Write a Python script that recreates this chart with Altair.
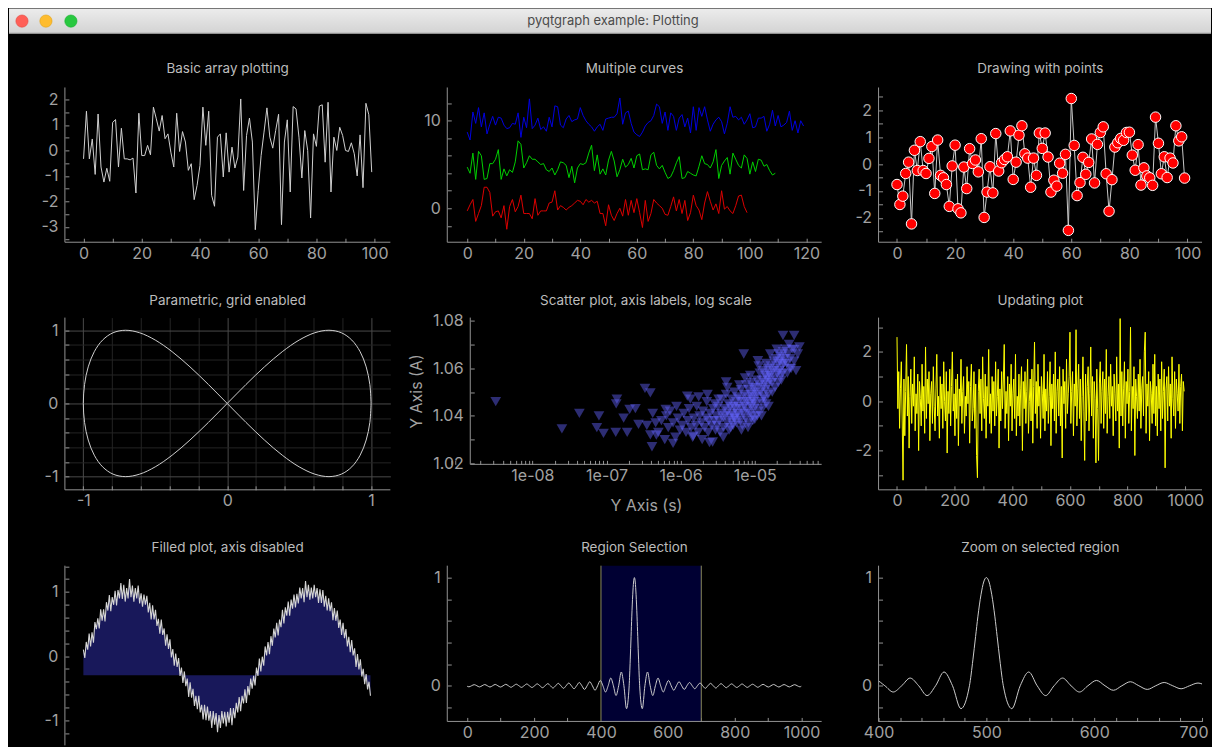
import altair as alt
import pandas as pd

FONT = "Inter"
AXIS_C = "#939393"
LABEL_C = "#a2a2a2"
TITLE_C = "#bcbcbc"

WINDOW_TITLE = "pyqtgraph example: Plotting"
LIGHT_FILL = ["#ff5f57", "#febc2e", "#28c840"]
LIGHT_EDGE = ["#e2463f", "#e1a116", "#14ae2c"]
TITLES = ["Basic array plotting", "Multiple curves", "Drawing with points",
          "Parametric, grid enabled", "Scatter plot, axis labels, log scale", "Updating plot",
          "Filled plot, axis disabled", "Region Selection", "Zoom on selected region"]

# ---------------- data ----------------
P1_Y = [-0.33, 1.54, -0.33, 0.45, -0.94, 1.43, -0.65, -1.24, -0.70, -1.21,
        1.10, 1.21, -0.65, 0.87, -0.33, -0.33, -0.37, -0.30, -1.67, 1.46,
        -0.20, -0.20, 0.20, -0.17, 1.70, 1.24, 0.76, 1.37, 0.46, 0.65,
        -0.07, -0.65, 1.46, -0.04, 0.74, 0.33, -0.78, -0.52, -1.93, -1.37,
        -0.59, 1.70, 0.20, 1.54, -1.76, -2.19, 0.52, 0.65, -1.04, 0.69,
        -0.85, 0.13, -0.69, -0.26, 2.02, -1.57, 0.59, 1.27, 0.33, -3.11,
        -1.57, -0.20, 0.72, 1.67, 0.52, 0.09, 0.78, 1.42, -2.91, 0.33,
        1.20, -1.63, 1.72, 1.63, 0.52, -1.08, 0.78, 0.00, -2.65, 0.65,
        0.16, 1.74, 1.79, -0.46, 1.89, -1.63, 0.52, 0.00, 0.91, 0.59,
        0.00, -0.04, 0.30, -0.13, -1.00, 0.61, -1.46, 1.85, 1.40, -0.85]

P2_RED = [-0.3, 0.4, 1.0, -1.5, -0.6, 0.3, 2.4, 2.4, 1.8, -0.9,
          -0.4, -0.3, -1.1, 0.3, -2.4, 0.2, 1.0, -0.4, 0.2, 1.5,
          -0.6, -0.6, -0.6, -1.2, 1.1, -0.8, -0.3, -0.3, -0.3, 0.6,
          0.7, 2.0, -0.2, 0.3, 0.1, -0.2, 0.1, 0.3, 0.6, 0.9,
          0.8, 0.4, 1.0, 0.7, 0.9, 0.6, 0.8, -0.6, -0.6, -2.0,
          0.4, -0.8, -1.4, -0.6, 0.0, -0.9, 1.0, -0.8, 0.9, -0.5,
          1.1, -0.5, -2.2, 0.9, -1.5, -0.6, 1.0, 0.6, 0.3, 0.0,
          -0.7, -0.8, 0.2, 1.3, -0.3, 1.0, -0.6, 0.9, -1.4, -0.5,
          1.5, 0.3, -0.2, -1.3, 0.6, 1.9, 0.8, -0.2, 0.5, -0.6,
          2.0, -0.1, 0.2, -0.3, -0.6, 0.3, 1.4, 1.5, 0.2, -0.5]
P2_GREEN = [4.7, 4.0, 6.3, 3.3, 6.5, 6.0, 3.3, 3.4, 5.1, 5.1,
            5.6, 6.7, 3.3, 4.5, 3.7, 4.4, 4.1, 5.3, 7.7, 7.3,
            4.6, 5.2, 6.0, 5.6, 5.6, 5.3, 5.0, 5.1, 4.4, 4.2,
            4.6, 3.8, 4.4, 5.3, 5.2, 4.9, 3.5, 4.8, 2.9, 4.6,
            5.1, 5.0, 5.2, 6.3, 7.2, 4.3, 6.1, 3.9, 4.5, 3.8,
            5.5, 6.5, 5.4, 3.6, 4.4, 5.6, 4.7, 5.0, 5.7, 4.6,
            6.0, 6.2, 4.4, 4.5, 4.4, 6.1, 6.4, 4.9, 4.5, 4.9,
            4.1, 3.4, 3.6, 4.3, 5.2, 5.9, 3.4, 3.5, 4.2, 4.0,
            3.8, 3.7, 4.8, 6.0, 5.1, 5.0, 4.6, 5.3, 6.7, 3.4,
            4.9, 5.4, 5.8, 3.9, 6.3, 5.6, 4.9, 4.6, 6.1, 5.7,
            3.9, 5.3, 4.2, 5.6, 5.5, 4.8, 5.0, 4.3, 3.8, 4.0]
P2_BLUE = [8.7, 7.8, 11.0, 9.7, 11.5, 9.3, 10.9, 8.5, 9.6, 10.5,
           9.5, 10.4, 10.3, 9.5, 9.1, 9.2, 9.7, 9.6, 10.9, 8.1,
           10.4, 9.2, 12.5, 9.1, 9.5, 10.3, 9.0, 9.3, 8.8, 10.4,
           9.3, 11.7, 11.6, 9.5, 9.2, 10.2, 10.6, 9.9, 10.1, 10.2,
           11.5, 10.6, 10.0, 9.6, 9.3, 8.8, 9.3, 9.6, 8.9, 10.2,
           10.3, 10.4, 10.4, 10.8, 12.6, 9.6, 10.9, 11.1, 9.7, 8.7,
           8.4, 8.2, 8.7, 9.4, 9.8, 10.0, 10.6, 11.9, 11.6, 9.7,
           11.0, 8.9, 10.9, 10.5, 8.9, 10.3, 10.7, 9.3, 10.3, 8.6,
           11.6, 8.9, 11.5, 10.5, 11.6, 10.1, 8.8, 9.6, 10.1, 10.4,
           9.9, 8.5, 9.7, 11.6, 10.4, 10.5, 10.1, 10.4, 9.6, 10.1,
           10.8, 9.2, 9.3, 10.3, 10.3, 10.5, 8.8, 9.6, 11.2, 9.4,
           10.6, 9.3, 9.5, 9.8, 11.1, 8.9, 10.0, 8.6, 10.0, 9.4]
P2_SERIES = ["red", "green", "blue"]
P2_COLORS = ["#dd0000", "#00d000", "#0000e0"]

P3_Y = [-0.76, -1.50, -1.19, -0.35, 0.07, -2.22, 0.51, -0.24, 0.83, -0.24,
        -0.35, 0.21, 0.65, -1.09, 0.89, -0.42, -0.51, -0.76, -1.57, -0.07,
        0.70, -1.66, -1.81, -0.11, -0.91, 0.57, 0.02, 0.15, -0.29, 0.94,
        -1.98, -1.04, -0.10, -1.07, 1.13, -0.26, 0.05, 0.17, 0.27, 1.23,
        -0.57, 0.07, 1.07, 1.42, 0.38, 0.22, -0.86, 0.22, -0.42, 1.15,
        0.58, 1.15, 0.26, -1.04, -0.60, -0.82, 0.03, -0.34, 0.36, -2.46,
        2.43, 0.69, -1.17, -0.69, 0.25, -0.38, 0.06, 0.93, -0.70, 0.73,
        1.17, 1.38, -0.36, -1.75, -0.58, 0.63, 0.79, 0.95, 0.88, 1.17,
        1.18, 0.33, -0.23, 0.72, -0.78, -0.14, -0.44, -0.51, -0.79, 1.74,
        0.77, -0.36, 0.27, -0.50, 0.22, 0.04, 1.42, 0.86, 1.01, -0.52]

P4_X = [1.0, 0.9914, 0.9659, 0.9239, 0.8660, 0.7934, 0.7071, 0.6088, 0.5, 0.3827,
        0.2588, 0.1305, 0.0, -0.1305, -0.2588, -0.3827, -0.5, -0.6088, -0.7071, -0.7934,
        -0.8660, -0.9239, -0.9659, -0.9914, -1.0, -0.9914, -0.9659, -0.9239, -0.8660, -0.7934,
        -0.7071, -0.6088, -0.5, -0.3827, -0.2588, -0.1305, 0.0, 0.1305, 0.2588, 0.3827,
        0.5, 0.6088, 0.7071, 0.7934, 0.8660, 0.9239, 0.9659, 0.9914, 1.0]
P4_Y = [0.0, 0.2588, 0.5, 0.7071, 0.8660, 0.9659, 1.0, 0.9659, 0.8660, 0.7071,
        0.5, 0.2588, 0.0, -0.2588, -0.5, -0.7071, -0.8660, -0.9659, -1.0, -0.9659,
        -0.8660, -0.7071, -0.5, -0.2588, 0.0, 0.2588, 0.5, 0.7071, 0.8660, 0.9659,
        1.0, 0.9659, 0.8660, 0.7071, 0.5, 0.2588, 0.0, -0.2588, -0.5, -0.7071,
        -0.8660, -0.9659, -1.0, -0.9659, -0.8660, -0.7071, -0.5, -0.2588, 0.0]

P5_X = [3.2e-9, 2.5e-8, 4.3e-8, 7.9e-8, 7.4e-8, 9.1e-8, 1.35e-7, 1.38e-7, 1.33e-7, 1.9e-7,
        1.7e-7, 2.05e-7, 2.45e-7, 2.7e-7, 3.3e-7, 3.9e-7, 4.1e-7, 4.7e-7, 6.3e-7, 7.9e-7,
        1.23e-6, 1.48e-6, 2.45e-6, 4.1e-6, 7.1e-6, 1.1e-5, 2.4e-5, 3.4e-5, 3.4e-5, 2.95e-5,
        1.0e-5, 1.23e-5,
        3.5e-7, 4.2e-7, 5.0e-7, 5.5e-7, 6.1e-7, 6.8e-7, 7.2e-7, 7.9e-7, 8.5e-7, 9.2e-7,
        9.8e-7, 4.6e-7, 6.4e-7, 8.8e-7, 3.9e-7,
        1.05e-6, 1.1e-6, 1.18e-6, 1.25e-6, 1.3e-6, 1.38e-6, 1.45e-6, 1.5e-6, 1.6e-6, 1.65e-6,
        1.72e-6, 1.8e-6, 1.9e-6, 1.95e-6, 2.0e-6, 2.1e-6, 2.2e-6, 2.25e-6, 2.35e-6, 2.4e-6,
        2.5e-6, 2.6e-6, 2.7e-6, 2.75e-6, 2.85e-6, 2.95e-6, 1.35e-6, 1.75e-6, 2.3e-6, 2.9e-6,
        3.0e-6, 3.1e-6, 3.2e-6, 3.3e-6, 3.4e-6, 3.5e-6, 3.6e-6, 3.7e-6, 3.8e-6, 3.9e-6,
        4.0e-6, 4.1e-6, 4.2e-6, 4.3e-6, 4.4e-6, 4.5e-6, 4.6e-6, 4.7e-6, 4.8e-6, 4.9e-6,
        5.0e-6, 5.1e-6, 5.2e-6, 5.3e-6, 5.4e-6, 5.5e-6, 5.6e-6, 5.7e-6, 5.8e-6, 5.9e-6,
        3.25e-6, 3.75e-6, 4.25e-6, 4.75e-6, 5.25e-6,
        6.0e-6, 6.1e-6, 6.3e-6, 6.4e-6, 6.5e-6, 6.7e-6, 6.8e-6, 6.9e-6, 7.0e-6, 7.2e-6,
        7.3e-6, 7.5e-6, 7.6e-6, 7.7e-6, 7.9e-6, 8.0e-6, 8.2e-6, 8.3e-6, 8.5e-6, 8.6e-6,
        8.8e-6, 8.9e-6, 9.0e-6, 9.2e-6, 9.3e-6, 9.5e-6, 9.6e-6, 9.8e-6, 9.9e-6, 6.6e-6,
        7.4e-6, 8.1e-6, 8.7e-6, 9.4e-6, 6.2e-6,
        1.0e-5, 1.02e-5, 1.05e-5, 1.07e-5, 1.1e-5, 1.12e-5, 1.15e-5, 1.17e-5, 1.2e-5, 1.22e-5,
        1.25e-5, 1.28e-5, 1.3e-5, 1.32e-5, 1.35e-5, 1.38e-5, 1.4e-5, 1.42e-5, 1.45e-5, 1.48e-5,
        1.5e-5, 1.52e-5, 1.55e-5, 1.58e-5, 1.13e-5, 1.27e-5, 1.43e-5, 1.08e-5, 1.36e-5, 1.53e-5,
        1.6e-5, 1.65e-5, 1.7e-5, 1.75e-5, 1.8e-5, 1.85e-5, 1.9e-5, 1.95e-5, 2.0e-5, 2.05e-5,
        2.1e-5, 2.15e-5, 2.2e-5, 2.25e-5, 2.3e-5, 2.35e-5, 2.4e-5, 2.45e-5, 1.72e-5, 1.88e-5,
        2.08e-5, 2.28e-5, 1.62e-5, 1.98e-5, 2.38e-5,
        2.5e-5, 2.6e-5, 2.7e-5, 2.8e-5, 2.9e-5, 3.0e-5, 3.2e-5, 3.4e-5, 3.6e-5, 3.8e-5,
        4.0e-5, 2.75e-5, 3.1e-5]
P5_Y = [1.046, 1.0345, 1.041, 1.040, 1.035, 1.0326, 1.045, 1.047, 1.033, 1.033,
        1.039, 1.0427, 1.043, 1.0364, 1.0515, 1.0497, 1.027, 1.0319, 1.0427, 1.0284,
        1.0483, 1.0315, 1.0287, 1.0543, 1.066, 1.0632, 1.0738, 1.0738, 1.0678, 1.060,
        1.0385, 1.040,
        1.036, 1.041, 1.033, 1.038, 1.030, 1.035, 1.042, 1.037, 1.031, 1.039,
        1.034, 1.037, 1.040, 1.044, 1.032,
        1.036, 1.041, 1.033, 1.038, 1.043, 1.035, 1.031, 1.039, 1.036, 1.044,
        1.033, 1.040, 1.037, 1.030, 1.042, 1.035, 1.039, 1.046, 1.033, 1.038,
        1.041, 1.036, 1.029, 1.043, 1.038, 1.034, 1.047, 1.048, 1.049, 1.045,
        1.040, 1.036, 1.044, 1.038, 1.033, 1.041, 1.047, 1.039, 1.035, 1.043,
        1.040, 1.049, 1.037, 1.042, 1.045, 1.034, 1.040, 1.044, 1.038, 1.047,
        1.041, 1.036, 1.044, 1.050, 1.039, 1.043, 1.046, 1.037, 1.041, 1.048,
        1.047, 1.031, 1.052, 1.035, 1.039,
        1.044, 1.040, 1.047, 1.038, 1.051, 1.043, 1.036, 1.046, 1.041, 1.049,
        1.044, 1.039, 1.053, 1.046, 1.042, 1.048, 1.037, 1.051, 1.045, 1.041,
        1.049, 1.054, 1.044, 1.047, 1.040, 1.052, 1.046, 1.043, 1.050, 1.034,
        1.056, 1.035, 1.057, 1.038, 1.053,
        1.048, 1.052, 1.045, 1.055, 1.049, 1.042, 1.053, 1.058, 1.050, 1.046,
        1.055, 1.052, 1.059, 1.048, 1.054, 1.057, 1.051, 1.045, 1.056, 1.060,
        1.053, 1.049, 1.058, 1.055, 1.061, 1.043, 1.062, 1.040, 1.047, 1.044,
        1.057, 1.061, 1.054, 1.059, 1.063, 1.056, 1.060, 1.064, 1.058, 1.062,
        1.066, 1.059, 1.063, 1.057, 1.065, 1.061, 1.067, 1.062, 1.050, 1.052,
        1.054, 1.055, 1.066, 1.068, 1.058,
        1.064, 1.068, 1.062, 1.066, 1.070, 1.064, 1.068, 1.063, 1.059, 1.066,
        1.069, 1.058, 1.060]

P6_Y = [2.6, -0.3, 1.2, -1.1, 0.5, 1.6, -0.8, -3.2, 0.9, -1.4,
        0.4, 2.3, -0.6, 1.0, -1.9, 0.2, 1.3, -0.9, 0.7, -0.2,
        1.8, -1.2, 0.3, -0.5, 1.1, -2.0, 0.8, 0.1, -1.0, 1.5,
        -0.4, 0.6, -1.3, 2.2, -0.7, 0.9, -0.1, 1.2, -1.6, 0.3,
        0.8, -0.9, 1.4, -0.2, -1.2, 0.5, 1.9, -0.6, 0.2, -1.5,
        1.0, -0.3, 0.7, -1.1, 1.6, 0.0, -0.8, 1.2, -2.1, 0.4,
        -0.5, 1.3, -1.0, 0.6, 2.0, -0.4, 0.3, -1.4, 0.9, -0.7,
        1.1, -1.8, 0.5, -0.2, 1.7, -0.9, 0.4, 1.0, -1.3, 0.2,
        -0.6, 1.4, -0.1, 0.8, -1.7, 0.6, 1.5, -0.8, -0.3, 1.2,
        -1.1, 0.7, -2.2, -3.1, 0.4, 1.3, -0.5, 0.9, -1.2, 1.8,
        0.1, -0.7, 1.1, -1.5, 0.6, -0.2, 2.1, -0.9, 0.3, -1.3,
        1.0, -0.4, 0.8, -1.0, 1.6, -0.6, 0.2, 1.3, -1.9, 0.5,
        -0.8, 1.2, -0.3, 0.9, 2.3, -1.1, 0.4, -0.5, 1.0, -1.6,
        0.7, -0.2, 1.5, -1.2, 0.3, 0.9, -0.7, 1.9, -1.4, 0.2,
        -0.6, 1.1, -1.0, 0.5, 1.4, -2.0, 0.8, -0.3, 1.2, -0.9,
        0.4, 1.7, -1.3, 0.0, 0.9, -0.8, 1.3, -1.7, 0.6, 2.4,
        -0.5, 0.8, -1.1, 1.5, -0.2, 0.6, -1.5, 1.0, 0.3, -0.7,
        1.9, -1.2, 0.5, -0.4, 1.2, -0.9, 0.2, 1.6, -1.8, 0.7,
        -0.3, 1.1, -0.8, 2.0, -1.3, 0.4, 0.9, -0.6, 1.4, -1.0,
        0.6, -2.3, 1.3, -0.1, 0.8, -1.1, 1.7, -0.5, 0.3, 1.0,
        2.8, -0.9, 0.4, 1.2, -1.4, 0.7, -0.2, 2.9, -1.0, 0.5,
        1.5, -0.7, 0.9, -1.6, 0.2, 1.8, -0.4, -2.4, 1.1, -0.8,
        0.6, 1.4, -1.2, 0.3, 2.2, -0.6, 1.0, -1.5, 0.8, 0.1,
        -2.5, 1.3, -0.3, -2.4, 0.7, 1.6, -0.9, 0.4, 1.2, -1.1,
        0.9, -0.5, 2.1, -1.3, 0.2, 1.0, -0.7, 1.5, -0.2, 0.6,
        -1.4, 1.1, 0.3, -0.8, 1.8, -0.4, 0.7, -1.9, 3.35, -0.6,
        1.2, -1.0, 0.5, 1.6, -1.5, 0.8, -0.1, 1.3, -0.9, 0.4,
        3.0, -1.2, 0.6, -0.3, 1.4, -2.2, 0.9, 0.2, -0.7, 1.1,
        -0.4, 1.7, -1.1, 0.5, 1.0, -0.6, 2.0, 2.8, -1.3, 0.7,
        -0.2, 1.2, -1.6, 0.8, 0.3, -0.9, 1.5, -0.5, 1.9, -1.0,
        0.6, -1.4, 1.1, -0.3, 0.9, -1.2, 1.6, -0.7, 0.4, 1.3,
        -2.7, 0.5, 1.0, -0.8, 1.4, -0.2, 0.7, -1.5, 1.8, 0.1,
        -0.6, 1.2, -1.1, 0.9, 0.3, -0.4, 1.5, -0.9, 0.6, 1.1,
        -1.2, 0.8, 0.4]

P7_Y = [0.10, -0.03, 0.22, 0.10, 0.35, 0.15, 0.37, 0.21, 0.53, 0.42,
        0.59, 0.43, 0.73, 0.55, 0.73, 0.54, 0.84, 0.71, 0.95, 0.70,
        0.92, 0.80, 1.02, 0.79, 1.03, 0.90, 1.14, 0.89, 1.11, 0.85,
        1.06, 0.90, 1.20, 0.92, 1.10, 0.85, 1.06, 0.90, 1.10, 0.82,
        0.98, 0.77, 0.96, 0.80, 0.94, 0.68, 0.83, 0.57, 0.79, 0.57,
        0.72, 0.47, 0.58, 0.35, 0.57, 0.33, 0.43, 0.16, 0.34, 0.11,
        0.26, -0.02, 0.11, -0.15, 0.04, -0.17, -0.03, -0.31, -0.18, -0.42,
        -0.24, -0.47, -0.35, -0.64, -0.41, -0.65, -0.51, -0.78, -0.62, -0.83,
        -0.62, -0.88, -0.76, -0.99, -0.76, -1.00, -0.79, -1.01, -0.86, -1.12,
        -0.86, -1.07, -0.89, -1.19, -0.92, -1.12, -0.86, -1.05, -0.87, -1.10,
        -0.87, -1.04, -0.81, -1.08, -0.81, -0.97, -0.73, -0.88, -0.64, -0.86,
        -0.62, -0.74, -0.52, -0.73, -0.47, -0.61, -0.35, -0.51, -0.31, -0.46,
        -0.18, -0.31, -0.04, -0.24, -0.01, -0.15, 0.15, 0.01, 0.22, 0.03,
        0.31, 0.16, 0.43, 0.29, 0.52, 0.32, 0.57, 0.45, 0.72, 0.51,
        0.76, 0.63, 0.85, 0.63, 0.88, 0.74, 0.96, 0.76, 0.97, 0.82,
        1.07, 0.90, 1.06, 0.84, 1.17, 0.92, 1.11, 0.88, 1.07, 0.90,
        1.11, 0.92, 1.06, 0.83, 1.04, 0.83, 1.03, 0.77, 0.94, 0.71,
        0.90, 0.70, 0.84, 0.56, 0.75, 0.55, 0.71, 0.44, 0.57, 0.33,
        0.52, 0.28, 0.42, 0.15, 0.30, 0.06, 0.25, 0.01, 0.12, -0.17,
        0.03, -0.21, -0.05, -0.32, -0.20, -0.44, -0.28, -0.52, -0.40, -0.62]
P7_FILL_LEVEL = -0.3

SINC_X = [0.0,
          5.2, 13.0, 20.9, 28.8, 36.6, 44.5, 52.3, 60.2, 68.0, 75.9,
          83.7, 91.6, 99.4, 107.3, 115.2, 123.0, 130.9, 138.7, 146.6, 154.4,
          162.3, 170.1, 178.0, 185.8, 193.7, 201.5, 209.4, 217.3, 225.1, 233.0,
          240.8, 248.7, 256.5, 264.4, 272.2, 280.1, 287.9, 295.8, 303.7, 311.5,
          319.4, 327.2, 335.1, 342.9, 350.8, 358.6, 366.5, 374.3, 382.2, 390.0,
          397.9, 405.8, 413.6, 421.5, 429.3, 437.2, 445.0, 452.9, 460.7, 468.6,
          476.4, 484.3,
          487.5, 490.0, 492.1, 495.0, 497.5, 500.0, 502.5, 505.0, 507.9, 510.0, 512.5,
          515.7, 523.6, 531.4, 539.3, 547.1, 555.0, 562.8, 570.7, 578.5, 586.4,
          594.2, 602.1, 610.0, 617.8, 625.7, 633.5, 641.4, 649.2, 657.1, 664.9,
          672.8, 680.6, 688.5, 696.3, 704.2, 712.1, 719.9, 727.8, 735.6, 743.5,
          751.3, 759.2, 767.0, 774.9, 782.7, 790.6, 798.5, 806.3, 814.2, 822.0,
          829.9, 837.7, 845.6, 853.4, 861.3, 869.1, 877.0, 884.8, 892.7, 900.6,
          908.4, 916.3, 924.1, 932.0, 939.8, 947.7, 955.5, 963.4, 971.2, 979.1,
          987.0, 994.8,
          999.0]
SINC_Y = [-0.005,
          -0.010, 0, 0.010, 0, -0.011, 0, 0.011, 0, -0.012, 0,
          0.012, 0, -0.012, 0, 0.013, 0, -0.014, 0, 0.014, 0,
          -0.015, 0, 0.016, 0, -0.016, 0, 0.017, 0, -0.018, 0,
          0.019, 0, -0.021, 0, 0.022, 0, -0.024, 0, 0.025, 0,
          -0.028, 0, 0.030, 0, -0.034, 0, 0.037, 0, -0.042, 0,
          0.049, 0, -0.058, 0, 0.071, 0, -0.091, 0, 0.127, 0,
          -0.212, 0,
          0.239, 0.455, 0.637, 0.841, 0.959, 1.0, 0.959, 0.841, 0.637, 0.455, 0.239,
          0, -0.212, 0, 0.127, 0, -0.091, 0, 0.071, 0, -0.058,
          0, 0.049, 0, -0.042, 0, 0.037, 0, -0.034, 0, 0.030,
          0, -0.028, 0, 0.025, 0, -0.024, 0, 0.022, 0, -0.021,
          0, 0.019, 0, -0.018, 0, 0.017, 0, -0.016, 0, 0.016,
          0, -0.015, 0, 0.014, 0, -0.014, 0, 0.013, 0, -0.012,
          0, 0.012, 0, -0.012, 0, 0.011, 0, -0.011, 0, 0.010,
          0, -0.010,
          -0.005]
REGION = [400, 700]

# tick positions (major + minor)
X_TICKS_100 = list(range(0, 101, 10))
X_TICKS_120 = list(range(0, 121, 10))
X_TICKS_1000 = list(range(0, 1001, 100))
X_TICKS_ZOOM = list(range(400, 701, 20))
Y1_TICKS = [-3.5, -3, -2.5, -2, -1.5, -1, -0.5, 0, 0.5, 1, 1.5, 2]
Y2_TICKS = [-2, 0, 2, 4, 6, 8, 10, 12]
Y3_TICKS = [-2.5, -2, -1.5, -1, -0.5, 0, 0.5, 1, 1.5, 2, 2.5]
P4_TICKS = [-1, -0.8, -0.6, -0.4, -0.2, 0, 0.2, 0.4, 0.6, 0.8, 1]
P5_XMAJOR = [1e-8, 1e-7, 1e-6, 1e-5]
P5_XTICKS = sorted(P5_XMAJOR + [m * 10.0 ** e for e in range(-10, -4) for m in range(2, 10)
                                if 7.2e-10 < m * 10.0 ** e < 7.9e-5])
Y5_TICKS = [1.02, 1.03, 1.04, 1.05, 1.06, 1.07, 1.08]
Y6_TICKS = [-3, -2, -1, 0, 1, 2, 3]
Y7_TICKS = [-1.2, -1, -0.8, -0.6, -0.4, -0.2, 0, 0.2, 0.4, 0.6, 0.8, 1, 1.2, 1.4]
Y8_TICKS = [-0.2, 0, 0.2, 0.4, 0.6, 0.8, 1]


# ---------------- helpers ----------------
def sc(lo, hi):
    return alt.Scale(domain=[lo, hi], nice=False, zero=False)


def axis(values, step=None, side="x", test=None, fmt="toString(datum.value)", **kw):
    if test is None:
        test = f"abs(datum.value / {step} - round(datum.value / {step})) < 1e-6"
    args = dict(values=values, labelExpr=f"({test}) ? {fmt} : ''", domain=False,
                ticks=True, tickSize=4, tickWidth=1, tickColor=AXIS_C, offset=-4,
                labelColor=LABEL_C, labelFont=FONT, labelFontSize=16,
                labelPadding=7 if side == "y" else 3, labelOverlap=False,
                labelFlush=False, grid=False, title=None)
    args.update(kw)
    return alt.Axis(**args)


def frame(xs, ys, ax, ay, x0, x1, y0, y1, bottom=True):
    out = [alt.Chart(alt.Data(values=[{"k": 0}])).mark_rule(color=AXIS_C, strokeWidth=1).encode(
        x=alt.XDatum(x0, scale=xs, axis=ax),
        y=alt.YDatum(y0, scale=ys, axis=ay), y2=alt.Y2Datum(y1))]
    if bottom:
        out.append(alt.Chart(alt.Data(values=[{"k": 0}])).mark_rule(color=AXIS_C, strokeWidth=1).encode(
            x=alt.XDatum(x0, scale=xs, axis=ax), x2=alt.X2Datum(x1),
            y=alt.YDatum(y0, scale=ys, axis=ay)))
    return out


def ptitle(text, width, dy):
    return alt.Chart(alt.Data(values=[{"t": text}])).mark_text(
        font=FONT, fontSize=13.5, color=TITLE_C, align="center", baseline="middle").encode(
        text="t:N", x=alt.value(width / 2), y=alt.value(dy))


# ---------------- P1 (with window chrome) ----------------
X1 = (-6.4, 105.4); Y1 = (-3.6, 2.47)
xs1, ys1 = sc(*X1), sc(*Y1)
ax1, ay1 = axis(X_TICKS_100, 20), axis(Y1_TICKS, 1, side="y")
chrome = [
    alt.Chart(alt.Data(values=[{"k": 0}])).mark_rect(
        fill=alt.LinearGradient(gradient="linear",
                                stops=[alt.GradientStop(color="#ececec", offset=0),
                                       alt.GradientStop(color="#d3d3d3", offset=1)],
                                x1=0, x2=0, y1=0, y2=1)
    ).encode(x=alt.value(-56), x2=alt.value(1148), y=alt.value(-79), y2=alt.value(-54)),
    alt.Chart(alt.Data(values=[{"k": 0}])).mark_rule(color="#b0b0b0", strokeWidth=1).encode(
        x=alt.value(-56), x2=alt.value(1148), y=alt.value(-54.5)),
]
for fc, ec, px in zip(LIGHT_FILL, LIGHT_EDGE, [-43, -19, 6]):
    chrome.append(alt.Chart(alt.Data(values=[{"k": 0}])).mark_circle(
        size=150, fill=fc, stroke=ec, strokeWidth=0.6, opacity=1).encode(
        x=alt.value(px), y=alt.value(-66.5)))
chrome.append(alt.Chart(alt.Data(values=[{"t": WINDOW_TITLE}])).mark_text(
    font=FONT, fontSize=13, color="#4b4b4b", align="center", baseline="middle").encode(
    text="t:N", x=alt.value(549), y=alt.value(-66.5)))
p1_df = pd.DataFrame({"x": list(range(len(P1_Y))), "y": P1_Y})
p1_line = alt.Chart(p1_df).mark_line(color="#d0d0d0", strokeWidth=1).encode(
    x=alt.X("x:Q", scale=xs1, axis=ax1), y=alt.Y("y:Q", scale=ys1, axis=ay1))
p1 = alt.layer(*chrome, ptitle(TITLES[0], 326, -18.5), p1_line,
               *frame(xs1, ys1, ax1, ay1, X1[0], X1[1], Y1[0], Y1[1])
               ).properties(width=326, height=155)

# ---------------- P2 ----------------
X2 = (-7.06, 125.4); Y2 = (-3.88, 13.8)
xs2, ys2 = sc(*X2), sc(*Y2)
ax2, ay2 = axis(X_TICKS_120, 20), axis(Y2_TICKS, 10, side="y")
p2_df = pd.DataFrame({
    "x": list(range(len(P2_RED))) + list(range(len(P2_GREEN))) + list(range(len(P2_BLUE))),
    "y": P2_RED + P2_GREEN + P2_BLUE,
    "s": ["red"] * len(P2_RED) + ["green"] * len(P2_GREEN) + ["blue"] * len(P2_BLUE)})
p2_lines = alt.Chart(p2_df).mark_line(strokeWidth=1).encode(
    x=alt.X("x:Q", scale=xs2, axis=ax2), y=alt.Y("y:Q", scale=ys2, axis=ay2),
    color=alt.Color("s:N", scale=alt.Scale(domain=P2_SERIES, range=P2_COLORS), legend=None))
p2 = alt.layer(ptitle(TITLES[1], 375, -18.5), p2_lines,
               *frame(xs2, ys2, ax2, ay2, X2[0], X2[1], Y2[0], Y2[1])
               ).properties(width=375, height=155)

# ---------------- P3 ----------------
X3 = (-6.35, 105.0); Y3 = (-2.9, 2.84)
xs3, ys3 = sc(*X3), sc(*Y3)
ax3, ay3 = axis(X_TICKS_100, 20), axis(Y3_TICKS, 1, side="y")
p3_df = pd.DataFrame({"x": list(range(len(P3_Y))), "y": P3_Y})
p3_base = alt.Chart(p3_df)
p3_line = p3_base.mark_line(color="#c8c8c8", strokeWidth=1).encode(
    x=alt.X("x:Q", scale=xs3, axis=ax3), y=alt.Y("y:Q", scale=ys3, axis=ay3))
p3_pts = p3_base.mark_circle(size=110, fill="#ff0000", stroke="#ffffff", strokeWidth=1,
                             opacity=1).encode(
    x=alt.X("x:Q", scale=xs3, axis=ax3), y=alt.Y("y:Q", scale=ys3, axis=ay3))
p3 = alt.layer(ptitle(TITLES[2], 324, -18.5), p3_line, p3_pts,
               *frame(xs3, ys3, ax3, ay3, X3[0], X3[1], Y3[0], Y3[1])
               ).properties(width=324, height=155)

# ---------------- P4 ----------------
X4 = (-1.128, 1.134); Y4 = (-1.18, 1.173)
xs4, ys4 = sc(*X4), sc(*Y4)
GRID_C = {"condition": {"test": "abs(datum.value - round(datum.value)) < 1e-6",
                        "value": "#4a4a4a"}, "value": "#242424"}
ax4 = axis(P4_TICKS, 1, grid=True, gridColor=GRID_C, gridWidth=1)
ay4 = axis(P4_TICKS, 1, side="y", grid=True, gridColor=GRID_C, gridWidth=1)
p4_df = pd.DataFrame({"i": list(range(len(P4_X))), "x": P4_X, "y": P4_Y})
p4_line = alt.Chart(p4_df).mark_line(color="#cfcfcf", strokeWidth=1,
                                     interpolate="catmull-rom").encode(
    x=alt.X("x:Q", scale=xs4, axis=ax4), y=alt.Y("y:Q", scale=ys4, axis=ay4), order="i:Q")
p4 = alt.layer(ptitle(TITLES[3], 326, -17), p4_line,
               *frame(xs4, ys4, ax4, ay4, X4[0], X4[1], Y4[0], Y4[1])
               ).properties(width=326, height=172.5)

# ---------------- P5 ----------------
X5 = (7.1e-10, 7.98e-5); Y5 = (1.0196, 1.0813)
X5_AXIS = 1.45e-9
xs5 = alt.Scale(type="log", domain=list(X5), nice=False)
ys5 = sc(*Y5)
LOGTEST = "abs(log(datum.value) / LN10 - round(log(datum.value) / LN10)) < 1e-6"
ax5 = axis(P5_XTICKS, test=LOGTEST,
           fmt="'1e-0' + toString(-round(log(datum.value) / LN10))",
           title="Y Axis (s)", titleColor=LABEL_C, titleFont=FONT, titleFontSize=16,
           titleFontWeight="normal", titleX=199, titleY=45, titleBaseline="middle",
           titleAlign="center")
ay5 = axis(Y5_TICKS, 0.02, side="y", fmt="format(datum.value, '.2f')", offset=-27,
           title="Y Axis (A)", titleColor=LABEL_C, titleFont=FONT, titleFontSize=16,
           titleFontWeight="normal", titlePadding=8)
p5_df = pd.DataFrame({"x": P5_X, "y": P5_Y})
p5_pts = alt.Chart(p5_df).mark_point(shape="triangle-down", filled=True, size=115,
                                     color="#6464ff", opacity=0.45, strokeWidth=0).encode(
    x=alt.X("x:Q", scale=xs5, axis=ax5), y=alt.Y("y:Q", scale=ys5, axis=ay5))
p5 = alt.layer(ptitle(TITLES[4], 2 * 23 + 352, -17), p5_pts,
               *frame(xs5, ys5, ax5, ay5, X5_AXIS, X5[1], Y5[0], Y5[1])
               ).properties(width=375, height=147)

# ---------------- P6 ----------------
X6 = (-64, 1058); Y6 = (-3.59, 3.39)
xs6, ys6 = sc(*X6), sc(*Y6)
ax6, ay6 = axis(X_TICKS_1000, 200), axis(Y6_TICKS, 2, side="y")
p6_df = pd.DataFrame({"x": list(range(0, 3 * len(P6_Y), 3)), "y": P6_Y})
p6_line = alt.Chart(p6_df).mark_line(color="#ffff00", strokeWidth=1).encode(
    x=alt.X("x:Q", scale=xs6, axis=ax6), y=alt.Y("y:Q", scale=ys6, axis=ay6))
p6 = alt.layer(ptitle(TITLES[5], 324, -17), p6_line,
               *frame(xs6, ys6, ax6, ay6, X6[0], X6[1], Y6[0], Y6[1])
               ).properties(width=324, height=172.5)

# ---------------- P7 ----------------
X7 = (-64, 1064); Y7 = (-1.394, 1.41)
xs7, ys7 = sc(*X7), sc(*Y7)
ay7 = axis(Y7_TICKS, 1, side="y")
p7_df = pd.DataFrame({"x": list(range(0, 5 * len(P7_Y), 5)), "y": P7_Y})
p7_area = alt.Chart(p7_df).mark_area(color="#18185a", opacity=1).encode(
    x=alt.X("x:Q", scale=xs7, axis=None), y=alt.Y("y:Q", scale=ys7, axis=ay7),
    y2=alt.Y2Datum(P7_FILL_LEVEL))
p7_line = alt.Chart(p7_df).mark_line(color="#d4d4d4", strokeWidth=1.1).encode(
    x=alt.X("x:Q", scale=xs7, axis=None), y=alt.Y("y:Q", scale=ys7, axis=ay7))
p7 = alt.layer(ptitle(TITLES[6], 326, -17.5), p7_area, p7_line,
               *frame(xs7, ys7, None, ay7, X7[0], X7[1], Y7[0], Y7[1], bottom=False)
               ).properties(width=326, height=180)

# ---------------- P8 ----------------
X8 = (-59.7, 1060); Y8 = (-0.33, 1.11)
xs8, ys8 = sc(*X8), sc(*Y8)
ax8, ay8 = axis(X_TICKS_1000, 200), axis(Y8_TICKS, 1, side="y")
sinc_df = pd.DataFrame({"x": SINC_X, "y": SINC_Y})
p8_region = alt.Chart(alt.Data(values=[{"lo": REGION[0], "hi": REGION[1]}])).mark_rect(
    color="#000033", opacity=1).encode(
    x=alt.X("lo:Q", scale=xs8, axis=ax8), x2="hi:Q",
    y=alt.YDatum(Y8[1], scale=ys8, axis=ay8), y2=alt.Y2Datum(Y8[0]))
p8_edges = alt.Chart(alt.Data(values=[{"v": v} for v in REGION])).mark_rule(
    color="#8a8a5a", strokeWidth=1).encode(
    x=alt.X("v:Q", scale=xs8, axis=ax8),
    y=alt.YDatum(Y8[1], scale=ys8, axis=ay8), y2=alt.Y2Datum(Y8[0]))
p8_line = alt.Chart(sinc_df).mark_line(color="#cccccc", strokeWidth=1,
                                       interpolate="monotone").encode(
    x=alt.X("x:Q", scale=xs8, axis=ax8), y=alt.Y("y:Q", scale=ys8, axis=ay8))
p8 = alt.layer(ptitle(TITLES[7], 375, -17.5), p8_region, p8_edges, p8_line,
               *frame(xs8, ys8, ax8, ay8, X8[0], X8[1], Y8[0], Y8[1])
               ).properties(width=375, height=156)

# ---------------- P9 ----------------
X9 = (REGION[0], REGION[1]); Y9 = Y8
xs9, ys9 = sc(*X9), sc(*Y9)
LAST = f"datum.value == {REGION[1]}"
ax9 = axis(X_TICKS_ZOOM, 100,
           labelAlign={"condition": {"test": LAST, "value": "right"}, "value": "center"},
           labelOffset={"condition": {"test": LAST, "value": 6}, "value": 0})
ay9 = axis(Y8_TICKS, 1, side="y")
p9_line = alt.Chart(sinc_df).mark_line(color="#cccccc", strokeWidth=1,
                                       interpolate="monotone", clip=True).encode(
    x=alt.X("x:Q", scale=xs9, axis=ax9), y=alt.Y("y:Q", scale=ys9, axis=ay9))
p9 = alt.layer(ptitle(TITLES[8], 324, -17.5), p9_line,
               *frame(xs9, ys9, ax9, ay9, X9[0], X9[1], Y9[0], Y9[1])
               ).properties(width=324, height=156)

chart = alt.concat(p1, p2, p3, p4, p5, p6, p7, p8, p9, columns=3,
                   spacing={"row": 75.5, "column": 57}, bounds="flush", align="each"
                   ).properties(background="#000000", padding=0
                   ).configure_view(strokeWidth=0)

chart.save("out.html", embed_options={"renderer": "svg", "actions": False})
